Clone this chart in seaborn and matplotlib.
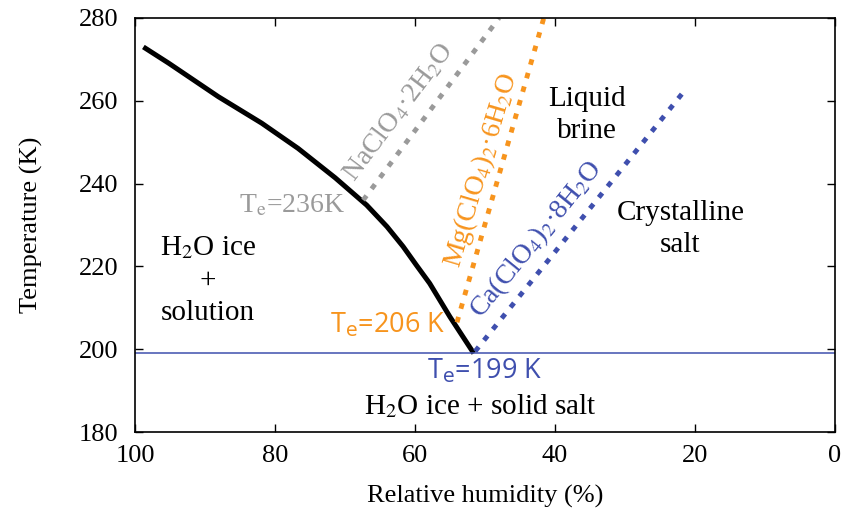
import matplotlib
matplotlib.use("Agg")
import matplotlib.pyplot as plt
import seaborn as sns
import pandas as pd

# Ice liquidus (H2O ice + solution boundary)
ice_rh = [98.8, 95.2, 88.1, 81.9, 76.7, 71.4, 66.9, 64.0, 61.7, 59.8, 57.9, 55.0, 51.6]
ice_T = [273.0, 269.1, 261.0, 254.6, 248.5, 241.4, 234.8, 229.6, 224.8, 220.3, 215.9, 207.8, 199.0]

# Deliquescence lines of the perchlorate hydrates
nacl_rh = [67.4, 48.0]
nacl_T = [236.0, 280.0]
mg_rh = [54.0, 41.6]
mg_T = [206.5, 280.0]
ca_rh = [51.4, 21.8]
ca_T = [199.5, 261.8]

eutectic_T = 199.0

sns.set_theme(style="ticks")
plt.rcParams["font.family"] = ["Liberation Serif", "DejaVu Serif"]
plt.rcParams["mathtext.fontset"] = "stix"
plt.rcParams["text.color"] = "black"
plt.rcParams["axes.labelcolor"] = "black"

GRAY = "#9a9a9a"
ORANGE = "#f7941d"
BLUE = "#3f4fae"

fig = plt.figure(figsize=(8.49, 5.14), dpi=100)
ax = fig.add_axes([0.159, 0.1595, 0.8245, 0.8055])

ice = pd.DataFrame({"rh": ice_rh, "T": ice_T})
sns.lineplot(data=ice, x="rh", y="T", ax=ax, color="black", lw=3.6,
             sort=False, solid_capstyle="butt")

dot = (0, (1.15, 1.75))
for xs, ys, c in [(nacl_rh, nacl_T, GRAY), (mg_rh, mg_T, ORANGE), (ca_rh, ca_T, BLUE)]:
    sns.lineplot(x=xs, y=ys, ax=ax, color=c, lw=3.5, linestyle=dot,
                 sort=False, dash_capstyle="butt")

ax.axhline(eutectic_T, color=BLUE, lw=1.1)

ax.set_xlim(100, 0)
ax.set_ylim(180, 280)
ax.set_xticks([100, 80, 60, 40, 20, 0])
ax.set_yticks([180, 200, 220, 240, 260, 280])
ax.tick_params(direction="in", length=6, width=1, top=True, right=True,
               labelsize=19, colors="black")
ax.tick_params(axis="y", pad=12)
ax.tick_params(axis="x", pad=9)
for s in ax.spines.values():
    s.set_color("black")
    s.set_linewidth(1.2)
ax.set_xlabel("Relative humidity (%)", fontsize=19, labelpad=13)
ax.set_ylabel("Temperature (K)", fontsize=19, labelpad=26)

big = 21
# Region labels
ax.text(89.6, 216.7, "H$_2$O ice\n+\nsolution", fontsize=big, ha="center",
        va="center", linespacing=1.3, multialignment="center")
ax.text(35.4, 256.6, "Liquid\nbrine", fontsize=big, ha="center", va="center",
        linespacing=1.3)
ax.text(22.1, 229.0, "Crystalline\nsalt", fontsize=big, ha="center",
        va="center", linespacing=1.3)
ax.text(50.7, 186.3, "H$_2$O ice + solid salt", fontsize=big, ha="center",
        va="center")

# Hydrate labels along their lines
ax.text(62.4, 257.3, "NaClO$_4$·2H$_2$O", color=GRAY, fontsize=20,
        rotation=53, ha="center", va="center", rotation_mode="anchor")
ax.text(50.6, 243.3, "Mg(ClO$_4$)$_2$·6H$_2$O", color=ORANGE, fontsize=20,
        rotation=73.5, ha="center", va="center", rotation_mode="anchor")
ax.text(42.6, 226.4, "Ca(ClO$_4$)$_2$·8H$_2$O", color=BLUE, fontsize=20,
        rotation=51, ha="center", va="center", rotation_mode="anchor")

# Eutectic temperatures
ax.text(77.6, 234.8, "T$_\\mathrm{e}$=236K", color=GRAY, fontsize=20,
        ha="center", va="center")
ax.text(63.9, 205.8, "T$_\\mathrm{e}$=206 K", color=ORANGE, fontsize=19.5,
        ha="center", va="center", family=["Open Sans", "DejaVu Sans"],
        math_fontfamily="dejavusans")
ax.text(50.0, 194.6, "T$_\\mathrm{e}$=199 K", color=BLUE, fontsize=19.5,
        ha="center", va="center", family=["Open Sans", "DejaVu Sans"],
        math_fontfamily="dejavusans")

fig.savefig("out.png", dpi=100)
